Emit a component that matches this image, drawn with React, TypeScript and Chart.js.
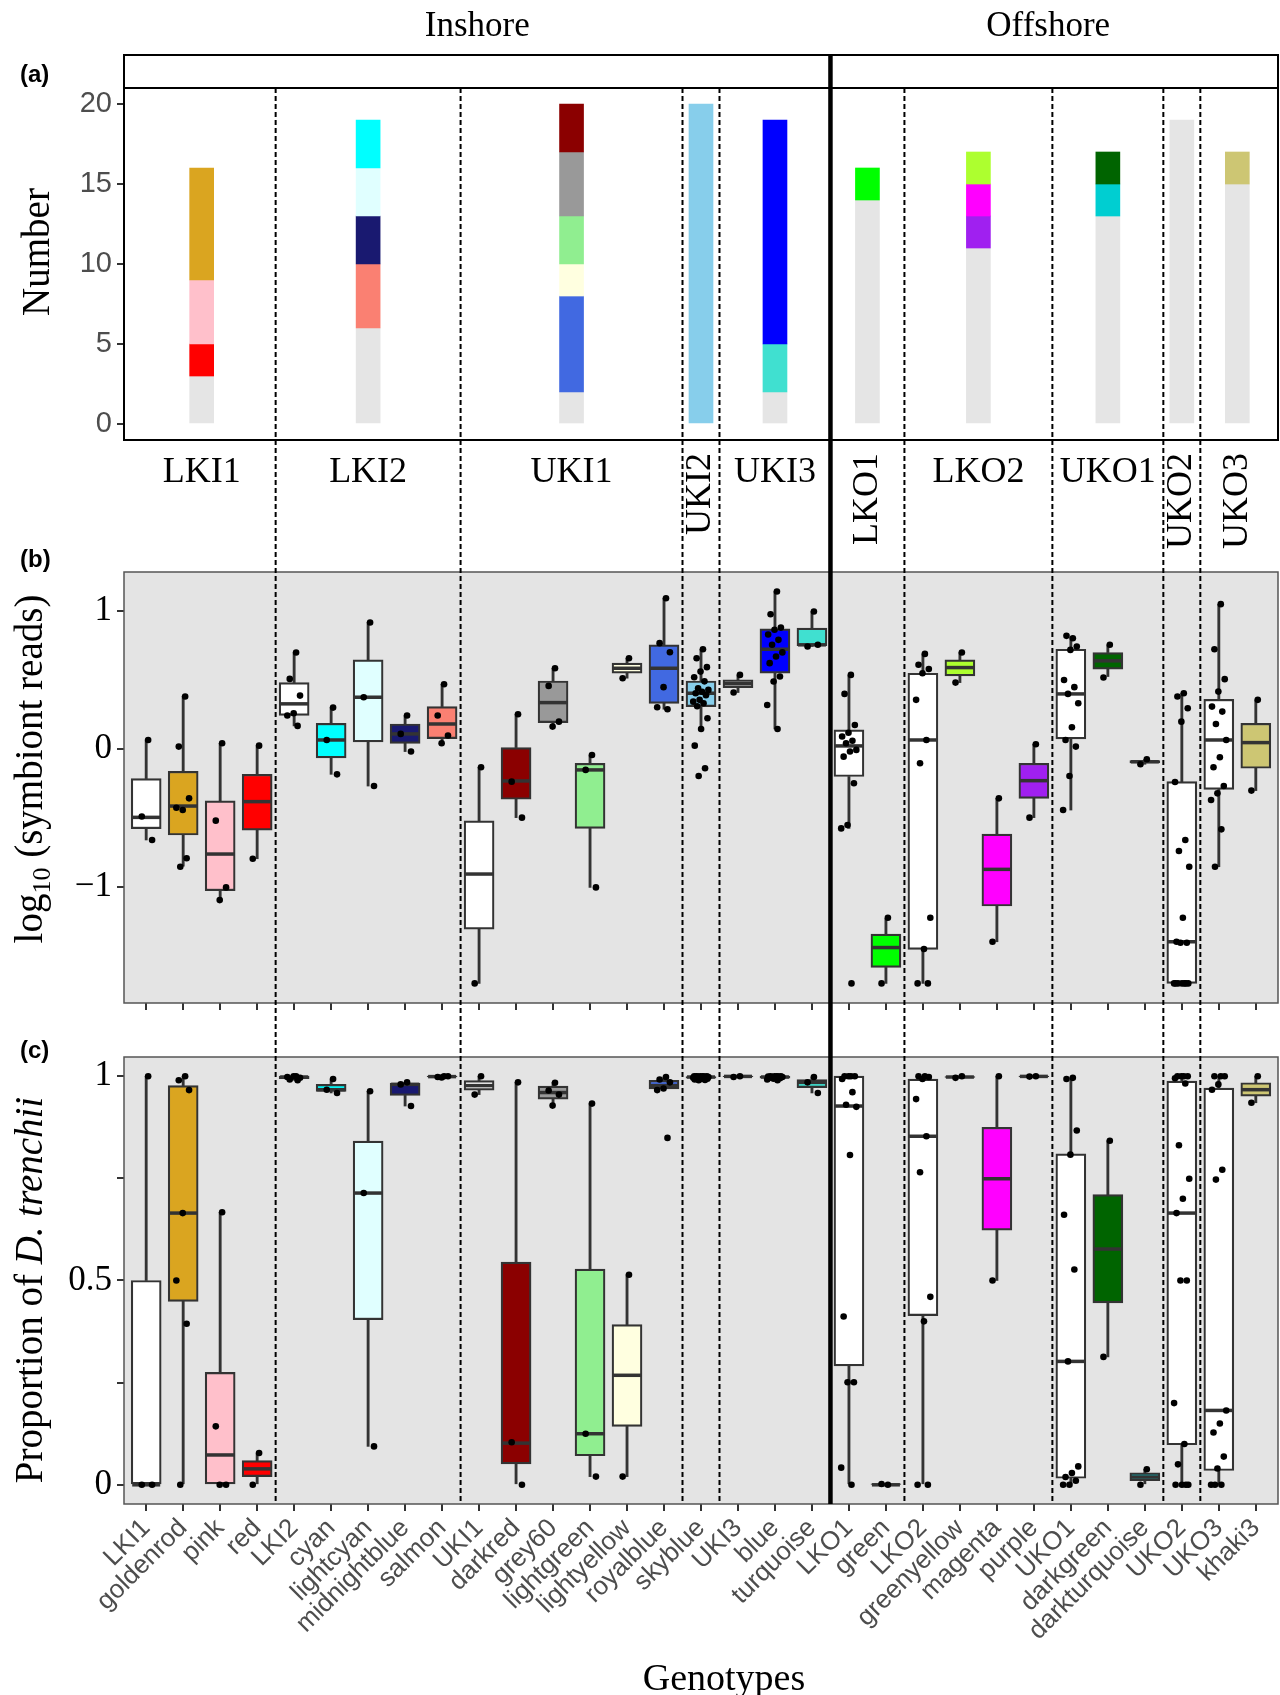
import { useEffect, useRef } from "react"
import { Chart, registerables } from "chart.js"

Chart.register(...registerables)

// genotypes in the order used by panels (b) and (c)
const genotypes = [
  "LKI1", "goldenrod", "pink", "red",
  "LKI2", "cyan", "lightcyan", "midnightblue", "salmon",
  "UKI1", "darkred", "grey60", "lightgreen", "lightyellow", "royalblue",
  "skyblue",
  "UKI3", "blue", "turquoise",
  "LKO1", "green",
  "LKO2", "greenyellow", "magenta", "purple",
  "UKO1", "darkgreen", "darkturquoise",
  "UKO2",
  "UKO3", "khaki3",
]
const genotypeSite = [
  "LKI1", "LKI1", "LKI1", "LKI1",
  "LKI2", "LKI2", "LKI2", "LKI2", "LKI2",
  "UKI1", "UKI1", "UKI1", "UKI1", "UKI1", "UKI1",
  "UKI2",
  "UKI3", "UKI3", "UKI3",
  "LKO1", "LKO1",
  "LKO2", "LKO2", "LKO2", "LKO2",
  "UKO1", "UKO1", "UKO1",
  "UKO2",
  "UKO3", "UKO3",
]
const sites = ["LKI1", "LKI2", "UKI1", "UKI2", "UKI3", "LKO1", "LKO2", "UKO1", "UKO2", "UKO3"]
const siteRegion = ["Inshore", "Inshore", "Inshore", "Inshore", "Inshore", "Offshore", "Offshore", "Offshore", "Offshore", "Offshore"]

// panel (a): number of colonies per genotype
const colonyCount = [3, 7, 4, 2, 6, 3, 3, 3, 4, 2, 3, 4, 3, 2, 6, 20, 2, 14, 3, 14, 2, 11, 2, 2, 2, 13, 2, 2, 19, 15, 2]
const countTicks = [0, 5, 10, 15, 20]

// panel (b): log10 symbiont reads
const readsTicks = [-1, 0, 1]
const readsLow = [-0.66, -0.85, -1.096, -0.796, 0.167, -0.184, -0.269, -0.019, 0.041, -1.7, -0.498, 0.162, -1.004, 0.513, 0.288, 0.145, 0.409, 0.145, 0.743, -0.576, -1.7, -1.7, 0.481, -1.398, -0.498, -0.443, 0.525, -0.111, -1.7, -0.854, -0.302]
const readsQ1 = [-0.578, -0.624, -1.028, -0.588, 0.244, -0.065, 0.051, 0.041, 0.075, -1.306, -0.365, 0.191, -0.576, 0.549, 0.331, 0.307, 0.445, 0.549, 0.749, -0.2, -1.584, -1.454, 0.53, -1.139, -0.358, 0.073, 0.578, -0.102, -1.7, -0.293, -0.14]
const readsMedian = [-0.496, -0.414, -0.762, -0.382, 0.327, 0.065, 0.375, 0.109, 0.181, -0.907, -0.232, 0.336, -0.152, 0.585, 0.585, 0.404, 0.473, 0.723, 0.755, 0.022, -1.44, 0.065, 0.59, -0.873, -0.23, 0.399, 0.639, -0.093, -1.398, 0.065, 0.046]
const readsQ3 = [-0.215, -0.162, -0.377, -0.184, 0.481, 0.186, 0.646, 0.181, 0.307, -0.522, 0.01, 0.493, -0.104, 0.622, 0.755, 0.493, 0.501, 0.871, 0.876, 0.138, -1.343, 0.549, 0.646, -0.617, -0.104, 0.723, 0.699, -0.084, -0.237, 0.36, 0.186]
const readsHigh = [0.065, 0.38, 0.041, 0.024, 0.699, 0.3, 0.917, 0.242, 0.469, -0.133, 0.252, 0.585, -0.044, 0.658, 1.093, 0.723, 0.537, 1.142, 0.997, 0.537, -1.229, 0.689, 0.699, -0.358, 0.034, 0.81, 0.755, -0.075, 0.404, 1.05, 0.356]
const readsPoints = [
  [0.065, -0.49, -0.66],
  [0.38, 0.017, -0.358, -0.443, -0.426, -0.793, -0.854],
  [0.041, -0.52, -1.004, -1.096],
  [0.024, -0.796],
  [0.699, 0.508, 0.387, 0.259, 0.242, 0.167],
  [0.3, 0.065, -0.184],
  [0.917, 0.375, -0.269],
  [0.242, 0.109, -0.019],
  [0.469, 0.242, 0.097, 0.041],
  [-0.133, -1.7],
  [0.252, -0.237, -0.498],
  [0.585, 0.457, 0.198, 0.162],
  [-0.044, -0.152, -1.004],
  [0.658, 0.513],
  [1.093, 0.767, 0.701, 0.448, 0.302, 0.288],
  [0.723, 0.658, 0.593, 0.561, 0.52, 0.49, 0.44, 0.428, 0.415, 0.404, 0.39, 0.356, 0.343, 0.331, 0.31, 0.223, 0.145, 0.024, -0.14, -0.196],
  [0.537, 0.409],
  [1.142, 0.977, 0.88, 0.864, 0.83, 0.791, 0.755, 0.7, 0.67, 0.622, 0.525, 0.489, 0.319, 0.145],
  [0.997, 0.743, 0.755],
  [0.537, 0.399, 0.174, 0.118, 0.09, 0.06, 0.041, -0.007, -0.019, -0.056, -0.249, -0.552, -0.576, -1.7],
  [-1.224, -1.7],
  [0.689, 0.61, 0.58, 0.549, 0.356, 0.065, -0.104, -1.224, -1.45, -1.7, -1.7],
  [0.699, 0.481],
  [-0.358, -1.398],
  [0.034, -0.498],
  [0.803, 0.82, 0.743, 0.718, 0.5, 0.448, 0.399, 0.331, 0.157, 0.065, 0.017, -0.196, -0.443],
  [0.755, 0.518],
  [-0.075, -0.111],
  [0.404, 0.38, 0.295, 0.198, -0.24, -0.66, -0.74, -0.854, -1.224, -1.398, -1.405, -1.405, -1.7, -1.7, -1.7, -1.7, -1.7, -1.7, -1.7],
  [1.05, 0.723, 0.506, 0.416, 0.307, 0.271, 0.181, 0.065, -0.06, -0.133, -0.269, -0.322, -0.37, -0.583, -0.854],
  [0.356, -0.302],
]

// panel (c): proportion of D. trenchii
const propTicks = [0, 0.25, 0.5, 0.75, 1]
const propLabelled = [0, 0.5, 1]
const propLow = [0, 0, 0, 0, 0.99, 0.959, 0.094, 0.927, 0.997, 0.955, 0, 0.928, 0.02, 0.02, 0.966, 0.99, 0.998, 0.99, 0.959, 0, 0, 0, 0.996, 0.5, 0.998, 0, 0.313, 0, 0, 0, 0.935]
const propQ1 = [0, 0.449, 0, 0.02, 0.994, 0.963, 0.404, 0.953, 0.998, 0.966, 0.051, 0.944, 0.071, 0.143, 0.969, 0.995, 0.999, 0.995, 0.972, 0.291, 0, 0.414, 0.997, 0.623, 0.999, 0.016, 0.445, 0.01, 0.098, 0.035, 0.951]
const propMedian = [0, 0.665, 0.073, 0.039, 0.998, 0.967, 0.714, 0.98, 0.999, 0.977, 0.102, 0.96, 0.125, 0.268, 0.977, 0.998, 0.9995, 0.998, 0.985, 0.927, 0, 0.853, 0.998, 0.749, 0.9995, 0.302, 0.577, 0.019, 0.665, 0.182, 0.967]
const propQ3 = [0.5, 0.977, 0.275, 0.059, 1, 0.98, 0.841, 0.983, 1, 0.989, 0.545, 0.976, 0.528, 0.392, 0.99, 0.999, 1, 1, 0.992, 1, 0.001, 0.993, 0.999, 0.875, 1, 0.81, 0.71, 0.029, 0.988, 0.971, 0.984]
const propHigh = [1, 1, 0.667, 0.078, 1, 0.993, 0.963, 0.985, 1, 1, 0.985, 0.985, 0.933, 0.514, 0.998, 1, 1, 1, 0.998, 1, 0.002, 1, 1, 1, 1, 0.996, 0.842, 0.038, 1, 1, 1]
const propPoints = [
  [1, 0, 0],
  [1, 0.99, 0.966, 0.665, 0.5, 0.394, 0],
  [0.667, 0.143, 0, 0],
  [0.078, 0],
  [1, 0.992, 0.996, 1, 0.998, 0.99],
  [0.993, 0.967, 0.959],
  [0.963, 0.714, 0.094],
  [0.985, 0.98, 0.927],
  [1, 0.998, 1, 0.997],
  [1, 0.955],
  [0.985, 0.104, 0],
  [0.984, 0.965, 0.955, 0.928],
  [0.933, 0.125, 0.02],
  [0.514, 0.02],
  [0.998, 0.992, 0.985, 0.97, 0.966, 0.849],
  [1, 1, 1, 1, 1, 0.999, 0.999, 0.998, 0.998, 0.998, 0.997, 0.997, 0.996, 0.995, 0.995, 0.994, 0.993, 0.992, 0.991, 0.99],
  [1, 0.998],
  [1, 1, 1, 1, 0.999, 0.999, 0.998, 0.998, 0.997, 0.996, 0.995, 0.994, 0.992, 0.99],
  [0.998, 0.985, 0.959],
  [1, 1, 1, 1, 0.993, 0.961, 0.93, 0.925, 0.807, 0.412, 0.251, 0.251, 0.042, 0],
  [0, 0.002],
  [1, 1, 0.998, 0.993, 0.944, 0.853, 0.765, 0.46, 0.4, 0, 0],
  [1, 0.996],
  [1, 0.5],
  [1, 0.999],
  [0.996, 0.993, 0.867, 0.808, 0.661, 0.527, 0.302, 0.045, 0.029, 0.019, 0.01, 0, 0],
  [0.842, 0.313],
  [0.038, 0],
  [1, 1, 1, 1, 0.995, 0.982, 0.831, 0.749, 0.7, 0.665, 0.5, 0.5, 0.2, 0.1, 0.05, 0, 0, 0, 0],
  [1, 1, 1, 0.98, 0.967, 0.771, 0.747, 0.182, 0.15, 0.128, 0.069, 0.04, 0, 0, 0],
  [1, 0.935],
]

// styles
const genotypeFill = [
  "#FFFFFF", "#DAA520", "#FFC0CB", "#FF0000",
  "#FFFFFF", "#00FFFF", "#E0FFFF", "#191970", "#FA8072",
  "#FFFFFF", "#8B0000", "#999999", "#90EE90", "#FFFFE0", "#4169E1",
  "#87CEEB",
  "#FFFFFF", "#0000FF", "#40E0D0",
  "#FFFFFF", "#00FF00",
  "#FFFFFF", "#ADFF2F", "#FF00FF", "#A020F0",
  "#FFFFFF", "#006400", "#00CED1",
  "#FFFFFF",
  "#FFFFFF", "#CDC673",
]
const siteBarFill = "#E5E5E5"
const boxLine = "#333333"
const panelGrey = "#E4E4E4"
const serif = "'Liberation Serif', 'Times New Roman', serif"
const sans = "'Liberation Sans', Arial, sans-serif"
const AXIS_W = 124
const X_MIN = 0.4
const X_MAX = 31.6

const positions = genotypes.map((_, i) => i + 1)

function siteCenter(site: string) {
  const xs = positions.filter((_, i) => genotypeSite[i] === site)
  return xs.reduce((a, b) => a + b, 0) / xs.length
}

// separators between sites, thick between regions
const boundaries: { value: number; thick: boolean }[] = []
for (let i = 1; i < genotypes.length; i++) {
  if (genotypeSite[i] !== genotypeSite[i - 1]) {
    const r1 = siteRegion[sites.indexOf(genotypeSite[i])]
    const r0 = siteRegion[sites.indexOf(genotypeSite[i - 1])]
    boundaries.push({ value: i + 0.5, thick: r1 !== r0 })
  }
}

function jitter(j: number) {
  return ((((j + 1) * 0.618034) % 1) - 0.5) * 0.45
}

// keep the plot areas of the three panels identical
function fixWidth(s: any) {
  s.width = AXIS_W
  s.paddingTop = 0
  s.paddingBottom = 0
}

function drawSeparators(chart: any, dashTop: number, thickTop: number, bottom: number) {
  const { ctx } = chart
  const x = chart.scales.x
  boundaries.forEach((b) => {
    const px = x.getPixelForValue(b.value)
    ctx.save()
    ctx.strokeStyle = "#000"
    ctx.beginPath()
    if (b.thick) {
      ctx.lineWidth = 4.5
      ctx.setLineDash([])
      ctx.moveTo(px, thickTop)
    } else {
      ctx.lineWidth = 2
      ctx.setLineDash([5, 3])
      ctx.moveTo(px, dashTop)
    }
    ctx.lineTo(px, bottom)
    ctx.stroke()
    ctx.restore()
  })
}

const countDecor = {
  id: "countDecor",
  afterDraw(chart: any) {
    const { ctx, chartArea: a } = chart
    const x = chart.scales.x
    const stripTop = 55
    ctx.save()
    ctx.strokeStyle = "#000"
    ctx.lineWidth = 2
    ctx.strokeRect(a.left, stripTop, a.right - a.left, a.top - stripTop)
    ctx.strokeRect(a.left, a.top, a.right - a.left, a.bottom - a.top)
    ctx.restore()
    drawSeparators(chart, a.top, stripTop, chart.height)

    const thick = boundaries.find((b) => b.thick)
    const split = thick ? x.getPixelForValue(thick.value) : (a.left + a.right) / 2
    const regions = siteRegion.filter((r, i) => siteRegion.indexOf(r) === i)
    ctx.save()
    ctx.fillStyle = "#000"
    ctx.font = `35px ${serif}`
    ctx.textAlign = "center"
    ctx.textBaseline = "alphabetic"
    ctx.fillText(regions[0], (a.left + split) / 2, 36)
    ctx.fillText(regions[1], (split + a.right) / 2 - 6, 36)

    ctx.font = `36px ${serif}`
    sites.forEach((site) => {
      const px = x.getPixelForValue(siteCenter(site))
      const n = genotypeSite.filter((s) => s === site).length
      if (n > 2) {
        ctx.textAlign = "center"
        ctx.textBaseline = "alphabetic"
        ctx.fillText(site, px, 482)
      } else {
        ctx.save()
        ctx.translate(px, 453)
        ctx.rotate(-Math.PI / 2)
        ctx.textAlign = "right"
        ctx.textBaseline = "middle"
        ctx.fillText(site, 0, 0)
        ctx.restore()
      }
    })
    ctx.restore()
  },
}

function makeBoxDecor(toAreaBottom: boolean) {
  return {
    id: "boxDecor",
    beforeDraw(chart: any) {
      const { ctx, chartArea: a } = chart
      ctx.save()
      ctx.fillStyle = panelGrey
      ctx.fillRect(a.left, a.top, a.right - a.left, a.bottom - a.top)
      ctx.restore()
    },
    afterDatasetsDraw(chart: any) {
      const { ctx, chartArea: a } = chart
      ctx.save()
      ctx.strokeStyle = "#555"
      ctx.lineWidth = 1.5
      ctx.strokeRect(a.left, a.top, a.right - a.left, a.bottom - a.top)
      ctx.restore()
      drawSeparators(chart, 0, 0, toAreaBottom ? a.bottom : chart.height)
    },
  }
}

function countChart(canvas: HTMLCanvasElement) {
  const bars: { x: number; y: [number, number] }[] = []
  const fills: string[] = []
  sites.forEach((site) => {
    const idx = positions.map((_, i) => i).filter((i) => genotypeSite[i] === site)
    const own = idx.filter((i) => genotypes[i] === site)
    const rest = idx.filter((i) => genotypes[i] !== site).reverse()
    let base = 0
    ;[...own, ...rest].forEach((i) => {
      bars.push({ x: siteCenter(site), y: [base, base + colonyCount[i]] })
      fills.push(genotypes[i] === site ? siteBarFill : genotypeFill[i])
      base += colonyCount[i]
    })
  })

  return new Chart(canvas, {
    type: "bar",
    data: {
      datasets: [
        { data: bars as any, backgroundColor: fills, borderWidth: 0, barThickness: 24, grouped: false },
      ],
    },
    options: {
      animation: false,
      responsive: true,
      maintainAspectRatio: false,
      events: [],
      layout: { autoPadding: false, padding: { top: 88, bottom: 120, left: 0, right: 2 } },
      plugins: { legend: { display: false }, tooltip: { enabled: false } },
      scales: {
        x: { type: "linear", display: false, min: X_MIN, max: X_MAX, offset: false },
        y: {
          min: -1,
          max: 21,
          afterBuildTicks: (s: any) => {
            s.ticks = countTicks.map((v) => ({ value: v }))
          },
          afterFit: fixWidth,
          border: { display: false },
          grid: { drawOnChartArea: false, tickLength: 7, color: boxLine, lineWidth: 2 },
          ticks: { font: { family: sans, size: 29 }, color: "#4d4d4d", padding: 5 },
        },
      },
    } as any,
    plugins: [countDecor],
  })
}

interface BoxSpec {
  low: number[]
  q1: number[]
  med: number[]
  q3: number[]
  high: number[]
  points: number[][]
  min: number
  max: number
  ticks: number[]
  tickLabel: (v: number) => string
  padTop: number
  xHeight: number
  showLabels: boolean
}

function boxChart(canvas: HTMLCanvasElement, spec: BoxSpec) {
  const whiskers = positions.flatMap((p, i) => [
    { x: p, y: [spec.low[i], spec.q1[i]] },
    { x: p, y: [spec.q3[i], spec.high[i]] },
  ])
  const boxes = positions.map((p, i) => ({ x: p, y: [spec.q1[i], spec.q3[i]] }))
  const medians = positions.map((p, i) => ({ x: p, y: spec.med[i] }))
  const dots = positions.flatMap((p, i) => spec.points[i].map((v, j) => ({ x: p + jitter(j), y: v })))

  const xTicks = spec.showLabels
    ? {
        autoSkip: false,
        maxRotation: 45,
        minRotation: 45,
        font: { family: sans, size: 26 },
        color: "#4d4d4d",
        padding: 2,
        callback: (v: number) => genotypes[Math.round(v) - 1],
      }
    : { display: false }

  return new Chart(canvas, {
    type: "bar",
    data: {
      datasets: [
        { type: "bar", data: whiskers as any, backgroundColor: boxLine, borderWidth: 0, barThickness: 2.2, grouped: false, order: 3 },
        {
          type: "bar",
          data: boxes as any,
          backgroundColor: genotypeFill,
          borderColor: boxLine,
          borderWidth: 2.2,
          borderSkipped: false,
          barThickness: 30,
          grouped: false,
          order: 2,
        },
        {
          type: "scatter",
          data: medians,
          pointStyle: "line",
          pointRadius: 14,
          pointBorderWidth: 3.5,
          pointBorderColor: boxLine,
          order: 1,
        },
        {
          type: "scatter",
          data: dots,
          pointRadius: 3.3,
          pointBackgroundColor: "#000",
          pointBorderWidth: 0,
          order: 0,
        },
      ] as any,
    },
    options: {
      animation: false,
      responsive: true,
      maintainAspectRatio: false,
      events: [],
      layout: { autoPadding: false, padding: { top: spec.padTop, bottom: 0, left: 0, right: 2 } },
      plugins: { legend: { display: false }, tooltip: { enabled: false } },
      scales: {
        x: {
          type: "linear",
          min: X_MIN,
          max: X_MAX,
          offset: false,
          afterBuildTicks: (s: any) => {
            s.ticks = positions.map((v) => ({ value: v }))
          },
          afterFit: (s: any) => {
            s.height = spec.xHeight
            s.paddingLeft = 0
            s.paddingRight = 0
          },
          border: { display: false },
          grid: { offset: false, drawOnChartArea: false, drawTicks: true, tickLength: 7, color: boxLine, lineWidth: 2 },
          ticks: xTicks,
        },
        y: {
          min: spec.min,
          max: spec.max,
          afterBuildTicks: (s: any) => {
            s.ticks = spec.ticks.map((v) => ({ value: v }))
          },
          afterFit: fixWidth,
          border: { display: false },
          grid: { drawOnChartArea: false, tickLength: 7, color: boxLine, lineWidth: 2 },
          ticks: { font: { family: serif, size: 35 }, color: "#000", padding: 5, callback: spec.tickLabel },
        },
      },
    } as any,
    plugins: [makeBoxDecor(spec.showLabels)],
  })
}

const panelTag: React.CSSProperties = {
  position: "absolute",
  left: 20,
  font: `bold 24px ${sans}`,
  lineHeight: "24px",
  color: "#000",
}

const yTitle: React.CSSProperties = {
  position: "absolute",
  transform: "translate(-50%, -50%) rotate(-90deg)",
  whiteSpace: "nowrap",
  font: `39px ${serif}`,
  lineHeight: "39px",
  color: "#000",
}

export default function App() {
  const refA = useRef<HTMLCanvasElement>(null)
  const refB = useRef<HTMLCanvasElement>(null)
  const refC = useRef<HTMLCanvasElement>(null)

  useEffect(() => {
    if (!refA.current || !refB.current || !refC.current) return
    const a = countChart(refA.current)
    const b = boxChart(refB.current, {
      low: readsLow,
      q1: readsQ1,
      med: readsMedian,
      q3: readsQ3,
      high: readsHigh,
      points: readsPoints,
      min: -1.842,
      max: 1.283,
      ticks: readsTicks,
      tickLabel: (v) => (v < 0 ? `\u2212${Math.abs(v)}` : `${v}`),
      padTop: 12,
      xHeight: 37,
      showLabels: false,
    })
    const c = boxChart(refC.current, {
      low: propLow,
      q1: propQ1,
      med: propMedian,
      q3: propQ3,
      high: propHigh,
      points: propPoints,
      min: -0.047,
      max: 1.047,
      ticks: propTicks,
      tickLabel: (v) => (propLabelled.includes(v) ? `${v}` : ""),
      padTop: 17,
      xHeight: 191,
      showLabels: true,
    })
    return () => {
      a.destroy()
      b.destroy()
      c.destroy()
    }
  }, [])

  return (
    <div style={{ position: "absolute", left: 0, top: 0, width: 1280, height: 1695, background: "#fff", overflow: "hidden" }}>
      <div style={{ position: "absolute", left: 0, top: 0, width: 1280, height: 560 }}>
        <canvas ref={refA} />
      </div>
      <div style={{ position: "absolute", left: 0, top: 560, width: 1280, height: 480 }}>
        <canvas ref={refB} />
      </div>
      <div style={{ position: "absolute", left: 0, top: 1040, width: 1280, height: 655 }}>
        <canvas ref={refC} />
      </div>

      <div style={{ ...panelTag, top: 62 }}>(a)</div>
      <div style={{ ...panelTag, top: 547 }}>(b)</div>
      <div style={{ ...panelTag, top: 1038 }}>(c)</div>

      <div style={{ ...yTitle, left: 35, top: 252 }}>Number</div>
      <div style={{ ...yTitle, left: 28, top: 769 }}>
        log<sub style={{ fontSize: 26, verticalAlign: "-8px", lineHeight: 0 }}>10</sub> (symbiont reads)
      </div>
      <div style={{ ...yTitle, left: 28, top: 1290 }}>
        Proportion of <i>D. trenchii</i>
      </div>

      <div
        style={{
          position: "absolute",
          left: 724,
          top: 1658,
          transform: "translateX(-50%)",
          whiteSpace: "nowrap",
          font: `38px ${serif}`,
          lineHeight: "38px",
          color: "#000",
        }}
      >
        Genotypes
      </div>
    </div>
  )
}
